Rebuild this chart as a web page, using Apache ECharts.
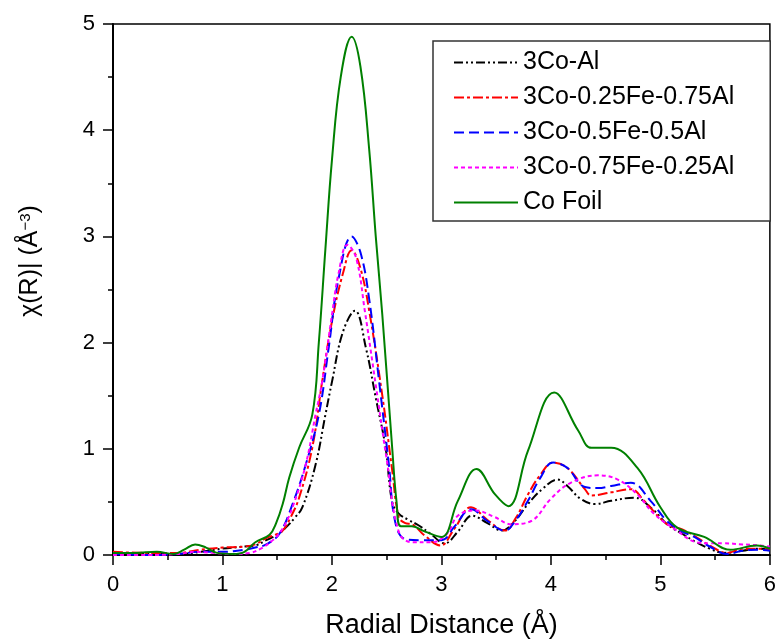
<!DOCTYPE html>
<html>
<head>
<meta charset="utf-8">
<script src="https://cdn.jsdelivr.net/npm/echarts@6/dist/echarts.min.js"></script>
<style>html,body{margin:0;padding:0;background:#fff;}#c{width:779px;height:644px;}</style>
</head>
<body>
<div id="c"></div>
<script>
const seriesNames = ['3Co-Al', '3Co-0.25Fe-0.75Al', '3Co-0.5Fe-0.5Al', '3Co-0.75Fe-0.25Al', 'Co Foil'];
const xTicks = [0, 1, 2, 3, 4, 5, 6];
const yTicks = [0, 1, 2, 3, 4, 5];

const blackX = [0, 0.3, 0.6, 0.8, 1.0, 1.2, 1.3, 1.4, 1.5, 1.58, 1.66, 1.73, 1.85, 1.94, 2.0, 2.1, 2.21, 2.31, 2.40, 2.49, 2.55, 2.61, 2.70, 2.79, 2.9, 3.03, 3.15, 3.28, 3.42, 3.55, 3.67, 3.79, 3.92, 4.06, 4.15, 4.27, 4.4, 4.55, 4.76, 4.94, 5.06, 5.2, 5.31, 5.45, 5.58, 5.75, 5.88, 6.0];
const blackY = [0.0, 0.01, 0.01, 0.03, 0.06, 0.08, 0.09, 0.14, 0.19, 0.26, 0.35, 0.45, 0.85, 1.32, 1.63, 2.1, 2.3, 1.95, 1.48, 1.01, 0.5, 0.39, 0.33, 0.28, 0.2, 0.11, 0.22, 0.37, 0.3, 0.23, 0.32, 0.48, 0.62, 0.71, 0.65, 0.53, 0.48, 0.51, 0.54, 0.42, 0.29, 0.2, 0.13, 0.06, 0.02, 0.04, 0.06, 0.05];

const redX = [0, 0.3, 0.6, 0.8, 1.0, 1.2, 1.3, 1.4, 1.48, 1.55, 1.62, 1.70, 1.82, 1.91, 2.0, 2.1, 2.18, 2.26, 2.34, 2.46, 2.55, 2.61, 2.67, 2.73, 2.85, 2.99, 3.12, 3.27, 3.42, 3.58, 3.68, 3.79, 3.9, 4.02, 4.15, 4.31, 4.37, 4.55, 4.73, 4.85, 5.06, 5.2, 5.31, 5.45, 5.61, 5.75, 5.9, 6.0];
const redY = [0.03, 0.02, 0.02, 0.05, 0.07, 0.08, 0.1, 0.16, 0.19, 0.23, 0.35, 0.54, 1.01, 1.63, 2.2, 2.65, 2.87, 2.7, 2.3, 1.5, 0.8, 0.36, 0.3, 0.29, 0.18, 0.09, 0.25, 0.45, 0.33, 0.23, 0.35, 0.57, 0.75, 0.87, 0.82, 0.62, 0.56, 0.59, 0.62, 0.51, 0.29, 0.24, 0.18, 0.09, 0.02, 0.06, 0.06, 0.05];

const blueX = [0, 0.3, 0.6, 0.8, 1.0, 1.2, 1.3, 1.4, 1.52, 1.64, 1.76, 1.88, 1.97, 2.06, 2.18, 2.26, 2.34, 2.43, 2.52, 2.58, 2.67, 2.82, 3.0, 3.12, 3.27, 3.42, 3.58, 3.68, 3.79, 3.9, 4.02, 4.15, 4.31, 4.43, 4.55, 4.73, 4.91, 5.06, 5.2, 5.31, 5.45, 5.61, 5.75, 5.9, 6.0];
const blueY = [0.01, 0.0, 0.01, 0.03, 0.03, 0.05, 0.07, 0.1, 0.2, 0.48, 0.85, 1.32, 1.95, 2.6, 3.0, 2.85, 2.41, 1.64, 0.85, 0.3, 0.15, 0.14, 0.14, 0.27, 0.43, 0.32, 0.23, 0.33, 0.51, 0.72, 0.87, 0.82, 0.64, 0.63, 0.65, 0.68, 0.51, 0.32, 0.22, 0.17, 0.08, 0.01, 0.04, 0.05, 0.04];

const magentaX = [0, 0.3, 0.6, 0.75, 0.9, 1.1, 1.25, 1.35, 1.46, 1.55, 1.64, 1.76, 1.85, 1.91, 2.0, 2.06, 2.14, 2.22, 2.3, 2.4, 2.5, 2.61, 2.73, 2.91, 3.05, 3.15, 3.31, 3.48, 3.64, 3.82, 4.0, 4.18, 4.43, 4.61, 4.79, 4.94, 5.15, 5.33, 5.45, 5.58, 5.75, 5.9, 6.0];
const magentaY = [0.0, 0.0, 0.01, 0.03, 0.02, 0.01, 0.02, 0.06, 0.14, 0.25, 0.45, 0.85, 1.32, 1.63, 2.26, 2.65, 2.92, 2.8, 2.3, 1.6, 0.9, 0.22, 0.12, 0.12, 0.2, 0.37, 0.42, 0.36, 0.29, 0.32, 0.53, 0.68, 0.75, 0.71, 0.57, 0.39, 0.23, 0.12, 0.11, 0.11, 0.1, 0.09, 0.08];

const greenX = [0, 0.2, 0.4, 0.55, 0.65, 0.75, 0.85, 0.95, 1.1, 1.2, 1.3, 1.43, 1.49, 1.55, 1.61, 1.70, 1.82, 1.88, 1.94, 2.0, 2.08, 2.18, 2.26, 2.34, 2.40, 2.46, 2.55, 2.59, 2.63, 2.73, 2.85, 3.0, 3.15, 3.32, 3.49, 3.61, 3.79, 4.03, 4.25, 4.37, 4.55, 4.79, 5.0, 5.15, 5.4, 5.64, 5.88, 6.0];
const greenY = [0.02, 0.02, 0.03, 0.01, 0.05, 0.1, 0.07, 0.02, 0.01, 0.03, 0.12, 0.19, 0.3, 0.48, 0.73, 1.01, 1.32, 2.0, 2.88, 3.72, 4.5, 4.88, 4.6, 3.82, 3.0, 2.26, 1.01, 0.5, 0.27, 0.27, 0.22, 0.17, 0.51, 0.81, 0.57, 0.46, 0.98, 1.53, 1.17, 1.01, 1.01, 0.82, 0.45, 0.26, 0.17, 0.05, 0.09, 0.06];

function pairs(xs, ys) { return xs.map((x, i) => [x, ys[i]]); }

const FONT = 'Liberation Sans, Arial, sans-serif';
const chart = echarts.init(document.getElementById('c'));

const lineDefs = [
  { name: seriesNames[0], xs: blackX, ys: blackY, color: '#000000', type: [9, 3, 2, 3, 2, 3] },
  { name: seriesNames[1], xs: redX, ys: redY, color: '#ff0000', type: [10, 3, 3, 3] },
  { name: seriesNames[2], xs: blueX, ys: blueY, color: '#0000ff', type: [10, 5] },
  { name: seriesNames[3], xs: magentaX, ys: magentaY, color: '#ff00ff', type: [4, 3] },
  { name: seriesNames[4], xs: greenX, ys: greenY, color: '#008000', type: 'solid' }
];

chart.setOption({
  animation: false,
  backgroundColor: '#ffffff',
  grid: { left: 113, right: 6, top: 24, bottom: 86, show: true, borderColor: '#000', borderWidth: 1.5 },
  legend: {
    orient: 'vertical',
    left: 433, top: 41,
    itemWidth: 64, itemHeight: 14, itemGap: 10,
    padding: [9, 36, 6, 20],
    borderColor: '#333', borderWidth: 1.5,
    backgroundColor: '#fff',
    itemStyle: { opacity: 0 },
    textStyle: { fontFamily: FONT, fontSize: 25, color: '#000', lineHeight: 24 },
    data: seriesNames
  },
  xAxis: {
    type: 'value', min: xTicks[0], max: xTicks[xTicks.length - 1], interval: 1,
    name: 'Radial Distance (Å)', nameLocation: 'middle', nameGap: 57,
    nameTextStyle: { fontFamily: FONT, fontSize: 27, color: '#000' },
    axisLine: { lineStyle: { color: '#000', width: 2 } },
    axisTick: { inside: false, length: 10, lineStyle: { color: '#000', width: 1.5 } },
    minorTick: { show: true, splitNumber: 2, length: 5, lineStyle: { color: '#000', width: 1.5 } },
    splitLine: { show: false },
    axisLabel: { fontFamily: FONT, fontSize: 22, color: '#000', margin: 19 }
  },
  yAxis: {
    type: 'value', min: yTicks[0], max: yTicks[yTicks.length - 1], interval: 1,
    name: '{a|χ(R)| (Å}{s|−3}{a|)}', nameLocation: 'middle', nameGap: 70,
    nameTextStyle: {
      fontFamily: FONT, fontSize: 25, color: '#000', padding: [0, 0, 0, 57],
      rich: {
        a: { fontFamily: FONT, fontSize: 25, color: '#000' },
        s: { fontFamily: FONT, fontSize: 15, color: '#000', verticalAlign: 'top' }
      }
    },
    axisLine: { lineStyle: { color: '#000', width: 2 } },
    axisTick: { inside: false, length: 10, lineStyle: { color: '#000', width: 1.5 } },
    minorTick: { show: true, splitNumber: 2, length: 5, lineStyle: { color: '#000', width: 1.5 } },
    splitLine: { show: false },
    axisLabel: { fontFamily: FONT, fontSize: 22, color: '#000', margin: 18 }
  },
  series: lineDefs.map(d => ({
    name: d.name, type: 'line', data: pairs(d.xs, d.ys),
    smooth: 0.4, symbol: 'none', showSymbol: false,
    lineStyle: { color: d.color, width: 2, type: d.type },
    itemStyle: { color: d.color }
  }))
});
</script>
</body>
</html>
